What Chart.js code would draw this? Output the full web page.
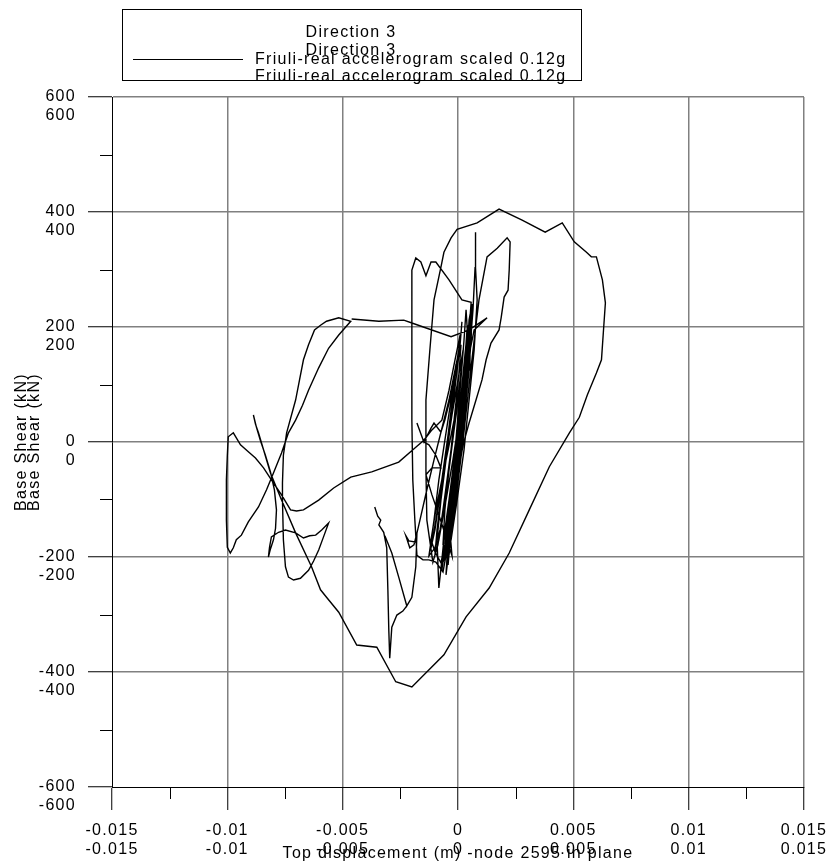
<!DOCTYPE html>
<html>
<head>
<meta charset="utf-8">
<script src="https://cdn.jsdelivr.net/npm/chart.js@4/dist/chart.umd.min.js"></script>
<style>
  html, body { margin: 0; padding: 0; background: #fff; }
  canvas { display: block; }
</style>
</head>
<body>
<canvas id="c" width="830" height="868"></canvas>
<script>
// Text
const chartTitle = 'Direction 3';
const seriesLabel = 'Friuli-real accelerogram scaled 0.12g';
const xAxisTitle = 'Top displacement (m) -node 2595 in plane';
const yAxisTitle = 'Base Shear (kN)';

// Axis ticks
const xMajorTicks = [-0.015, -0.01, -0.005, 0, 0.005, 0.01, 0.015];
const xTickLabels = ['-0.015', '-0.01', '-0.005', '0', '0.005', '0.01', '0.015'];
const xMinorTicks = [-0.0125, -0.0075, -0.0025, 0.0025, 0.0075, 0.0125];
const yMajorTicks = [-600, -400, -200, 0, 200, 400, 600];
const yTickLabels = ['-600', '-400', '-200', '0', '200', '400', '600'];
const yMinorTicks = [-500, -300, -100, 100, 300, 500];

// Hysteresis response: top displacement (m)
const dispX = [
  // opening drift and first small cycles
  -0.00361, -0.00348, -0.00335, -0.00343, -0.00322, -0.00309, -0.00304, -0.00300, -0.00296, -0.00287,
  -0.00265, -0.00239, -0.00222, -0.00257, -0.00287, -0.00317, -0.00287, -0.00257, -0.00222, -0.00200,
  -0.00183, -0.00178, -0.00191, -0.00209, -0.00226, -0.00213, -0.00187, -0.00165, -0.00135, -0.00104,
  -0.00074, -0.00039, -0.00013, 0.00009, 0.00017, 0.00009, -0.00009, -0.00030, -0.00052, -0.00074,
  -0.00091, -0.00083, -0.00070, -0.00057, -0.00039, -0.00017, 0.00004, 0.00022, 0.00035, 0.00039,
  0.00030, 0.00013, -0.00009, -0.00030, -0.00043, -0.00052, -0.00039, -0.00017, 0.00004, 0.00026,
  0.00043, 0.00057, 0.00061, 0.00048, 0.00030, 0.00004, -0.00022, -0.00039, -0.00026,
  -0.00048, -0.00083, -0.00113, -0.00139, -0.00113, -0.00074, -0.00096, -0.00126, -0.00148, -0.00178,
  -0.00148, -0.00117, -0.00104, -0.00074, -0.00057, -0.00030, -0.00004, 0.00013, 0.00004, -0.00017,
  -0.00039, -0.00057, -0.00065,
  // first spike
  -0.00048, -0.00022, 0.00004, 0.00026, 0.00048, 0.00065, 0.00074, 0.00074, 0.00078, 0.00083,
  0.00070, 0.00048, 0.00026, -0.00004, -0.00030, -0.00057,
  -0.00043, -0.00017, 0.00009, 0.00030, 0.00048, 0.00052, 0.00039, 0.00022, 0.00000, -0.00017,
  -0.00035, -0.00043,
  -0.00030, -0.00009, 0.00013, 0.00035, 0.00048, 0.00057, 0.00048, 0.00030, 0.00009, -0.00013,
  -0.00035, -0.00048, -0.00030, -0.00004, 0.00017, 0.00035, 0.00043, 0.00035, 0.00026, 0.00009,
  -0.00009, -0.00026, -0.00043, -0.00057, -0.00039, -0.00017, 0.00004, 0.00026, 0.00039, 0.00052,
  0.00039, 0.00017, -0.00004, -0.00022, -0.00035,
  // positive excursion
  -0.00030, -0.00004, 0.00022, 0.00048, 0.00070, 0.00091, 0.00126, 0.00170, 0.00213, 0.00226,
  0.00222, 0.00217, 0.00200, 0.00187, 0.00178, 0.00143, 0.00122, 0.00104, 0.00078, 0.00048,
  0.00022, -0.00004, -0.00030, -0.00052, -0.00065,
  // cycle with the double peak
  -0.00096, -0.00126, -0.00152, -0.00178, -0.00187, -0.00196, -0.00200, -0.00200, -0.00200, -0.00183,
  -0.00161, -0.00139, -0.00117, -0.00096, -0.00039, 0.00017, 0.00057, 0.00048, 0.00030, 0.00004,
  -0.00022, -0.00043, -0.00057, -0.00074, -0.00100, -0.00117,
  -0.00096, -0.00070, -0.00043, -0.00017, 0.00004, 0.00017, 0.00004, -0.00017, -0.00039, -0.00061,
  -0.00078, -0.00100, -0.00126,
  -0.00104, -0.00083, -0.00057, -0.00030, -0.00009, -0.00022, -0.00043, -0.00070, -0.00096, -0.00117,
  -0.00100, -0.00078, -0.00052, -0.00026, 0.00000, 0.00022, 0.00009, -0.00013, -0.00039, -0.00065,
  -0.00087, -0.00109,
  // large cycle
  -0.00135, -0.00139, -0.00139, -0.00122, -0.00104, -0.00074, -0.00061, -0.00030, -0.00004, 0.00083,
  0.00178, 0.00278, 0.00378, 0.00452, 0.00504, 0.00557, 0.00578, 0.00600, 0.00626, 0.00639,
  0.00630, 0.00622, 0.00600, 0.00561, 0.00526, 0.00483, 0.00396, 0.00309, 0.00222, 0.00135,
  0.00035, -0.00061, -0.00200, -0.00270, -0.00352, -0.00439, -0.00517, -0.00570, -0.00596, -0.00635,
  -0.00704, -0.00765, -0.00813, -0.00865, -0.00878, -0.00887,
  -0.00874, -0.00857, -0.00835, -0.00813, -0.00796, -0.00787, -0.00791, -0.00800, -0.00813, -0.00822,
  -0.00817, -0.00809, -0.00778, -0.00748, -0.00704, -0.00670, -0.00643, -0.00617, -0.00591, -0.00561,
  -0.00583, -0.00604, -0.00626, -0.00648, -0.00683, -0.00713, -0.00735, -0.00748, -0.00757, -0.00761,
  -0.00761, -0.00757, -0.00743, -0.00704, -0.00687, -0.00670, -0.00648, -0.00622, -0.00596, -0.00570,
  -0.00517, -0.00465,
  // negative excursion
  -0.00517, -0.00561, -0.00604, -0.00648, -0.00674, -0.00704, -0.00735, -0.00765, -0.00800, -0.00830,
  -0.00865, -0.00909, -0.00939, -0.00961, -0.00974, -0.00987, -0.01000, -0.01004, -0.01004, -0.01000,
  -0.00996, -0.00974, -0.00943, -0.00909, -0.00878, -0.00843, -0.00809, -0.00765, -0.00726, -0.00700,
  -0.00670, -0.00604, -0.00539, -0.00465, -0.00374, -0.00257, -0.00183, -0.00148, -0.00113, -0.00070,
  // closing small cycles
  -0.00039, -0.00013, 0.00009, -0.00004, -0.00026, -0.00048, -0.00070, -0.00091, -0.00100, -0.00083,
  -0.00052, -0.00022, 0.00004, 0.00026, 0.00039, 0.00026, 0.00004, -0.00017, -0.00039, -0.00057,
  -0.00043, -0.00022, -0.00004, 0.00013, 0.00030, 0.00048, 0.00030, 0.00009, -0.00009, -0.00022,
  -0.00039, -0.00052, -0.00035, -0.00013, 0.00009, 0.00026, 0.00039, 0.00048, 0.00061, 0.00052,
  0.00035, 0.00013, -0.00009, -0.00030, -0.00039, -0.00026,
  -0.00004, 0.00017, 0.00035, 0.00043, 0.00030, 0.00009, -0.00013, -0.00035, -0.00057, -0.00070,
  -0.00052, -0.00030, -0.00009, 0.00013, 0.00030, 0.00017, 0.00000, -0.00017, -0.00030, -0.00039,
  -0.00022, -0.00004, 0.00017,
  -0.00004, 0.00017, 0.00030, 0.00048, 0.00070, 0.00126, 0.00048, -0.00030, -0.00200, -0.00235,
  -0.00343, -0.00461
];

// Hysteresis response: base shear (kN)
const shearKN = [
  // opening drift and first small cycles
  -113, -129, -136, -144, -157, -184, -257, -327, -376, -322,
  -301, -294, -285, -235, -193, -163, -193, -235, -285, -270,
  -217, -158, -179, -184, -163, -172, -174, -136, -83, -31,
  17, 73, 125, 169, 209, 169, 108, 38, -31, -101,
  -170, -254, -205, -153, -101, -31, 38, 108, 160, 195,
  143, 73, -14, -101, -170, -231, -188, -118, -49, 38,
  108, 177, 238, 195, 125, 21, -66, -136, -198,
  -170, -127, -92, -57, -45, -45, -23, -5, 0, 33,
  0, 24, 33, 17, 38, 82, 134, 169, 117, 38,
  -49, -118, -179,
  // first spike
  -136, -66, 3, 73, 143, 230, 303, 365, 303, 247,
  160, 73, -14, -101, -170, -200,
  -153, -83, -14, 56, 125, 177, 143, 73, -14, -83,
  -153, -214,
  -153, -83, -14, 73, 143, 212, 169, 90, 3, -83,
  -162, -205, -144, -49, 38, 117, 177, 230, 177, 90,
  3, -83, -162, -209, -153, -92, -23, 56, 125, 186,
  125, 38, -49, -127, -179,
  // positive excursion
  -170, -83, 3, 99, 177, 247, 322, 337, 355, 348,
  299, 264, 252, 216, 195, 172, 143, 108, 73, 33,
  -5, -66, -136, -197, -226,
  // cycle with the double peak
  -209, -205, -205, -197, -136, -66, 38, 177, 299, 320,
  313, 289, 313, 313, 282, 247, 243, 195, 125, 38,
  -49, -127, -179, -210, -191, -170,
  -118, -66, -14, 38, 90, 134, 82, 21, -49, -110,
  -153, -184, -198,
  -136, -66, 3, 73, 134, 82, 12, -66, -136, -184,
  -153, -92, -23, 47, 108, 160, 108, 38, -40, -118,
  -179, -209,
  // large cycle
  -136, -49, 73, 160, 247, 304, 330, 355, 370, 381,
  405, 386, 365, 381, 348, 330, 322, 322, 282, 242,
  190, 143, 120, 82, 43, 16, -43, -118, -193, -254,
  -304, -370, -426, -417, -357, -353, -296, -270, -257, -217,
  -158, -101, -54, 16, 31, 47,
  26, 3, -23, -52, -83, -118, -150, -170, -186, -200,
  -183, -165, -157, -153, -158, -167, -163, -162, -153, -141,
  -165, -188, -207, -223, -237, -240, -235, -217, -170, -101,
  -71, -23, 16, 73, 108, 143, 169, 195, 203, 210,
  216, 210,
  // negative excursion
  186, 163, 129, 90, 64, 38, 16, -19, -54, -83,
  -113, -139, -162, -170, -184, -193, -183, -136, -66, -23,
  9, 16, -5, -17, -28, -45, -66, -92, -118, -120,
  -118, -101, -80, -61, -52, -35, -9, 3, 21, 38,
  // closing small cycles
  90, 143, 186, 125, 56, -14, -83, -153, -197, -170,
  -101, -31, 38, 108, 169, 117, 38, -49, -118, -170,
  -136, -66, -14, 38, 90, 160, 108, 38, -23, -66,
  -127, -179, -118, -49, 21, 90, 151, 212, 240, 195,
  117, 30, -49, -122, -162, -101,
  -23, 64, 143, 203, 151, 64, -23, -101, -179, -223,
  -170, -101, -31, 38, 99, 47, -23, -92, -153, -197,
  -136, -66, 21,
  -14, 56, 108, 151, 195, 216, 195, 183, 207, 212,
  210, 214
];

const FONT = '"Liberation Sans", Arial, Helvetica, sans-serif';
const LETTER_SPACING = '1.3px';
Chart.defaults.font.family = FONT;
Chart.defaults.font.size = 16;
Chart.defaults.color = '#000';

const near = (a, b) => Math.abs(a - b) < 1e-9;
const labelFor = (vals, labels) => (value) => {
  const i = vals.findIndex(v => near(v, value));
  if (i < 0) return '';
  return [labels[i], labels[i]];
};

// Spacing on all canvas text, re-applied because resizing resets the context
const spacingPlugin = {
  id: 'spacing',
  beforeLayout(chart) { chart.ctx.letterSpacing = LETTER_SPACING; },
  beforeDraw(chart) { chart.ctx.letterSpacing = LETTER_SPACING; }
};

// Short minor tick marks outside the plot frame
const minorTickPlugin = {
  id: 'minorTicks',
  afterDraw(chart) {
    const { ctx, chartArea, scales } = chart;
    ctx.save();
    ctx.strokeStyle = '#000';
    ctx.lineWidth = 1;
    ctx.beginPath();
    xMinorTicks.forEach(v => {
      const px = Math.round(scales.x.getPixelForValue(v)) + 0.5;
      ctx.moveTo(px, chartArea.bottom);
      ctx.lineTo(px, chartArea.bottom + 12);
    });
    yMinorTicks.forEach(v => {
      const py = Math.round(scales.y.getPixelForValue(v)) + 0.5;
      ctx.moveTo(chartArea.left - 12, py);
      ctx.lineTo(chartArea.left, py);
    });
    ctx.stroke();
    ctx.restore();
  }
};

// Boxed legend with heading and series sample
const legendBoxPlugin = {
  id: 'legendBox',
  afterDraw(chart) {
    const { ctx } = chart;
    const ds = chart.data.datasets[0];
    ctx.save();
    ctx.letterSpacing = LETTER_SPACING;
    ctx.strokeStyle = '#000';
    ctx.lineWidth = 1;
    ctx.strokeRect(122.5, 9.5, 459, 71);
    ctx.fillStyle = '#000';
    ctx.font = '16px ' + FONT;
    ctx.textBaseline = 'middle';
    ctx.textAlign = 'center';
    ctx.fillText(chartTitle, 351, 33);
    ctx.fillText(chartTitle, 351, 51);
    ctx.strokeStyle = ds.borderColor;
    ctx.lineWidth = 1;
    ctx.beginPath();
    ctx.moveTo(133, 59.5);
    ctx.lineTo(243, 59.5);
    ctx.stroke();
    ctx.textAlign = 'left';
    ctx.fillText(ds.label, 255, 60);
    ctx.fillText(ds.label, 255, 77);
    ctx.restore();
  }
};

const gridGray = '#808080';

new Chart(document.getElementById('c'), {
  type: 'scatter',
  data: {
    datasets: [{
      label: seriesLabel,
      data: dispX.map((x, i) => ({ x, y: shearKN[i] })),
      showLine: true,
      borderColor: '#000',
      borderWidth: 1.4,
      pointRadius: 0,
      pointHoverRadius: 0,
      tension: 0,
      fill: false
    }]
  },
  options: {
    responsive: false,
    animation: false,
    events: [],
    layout: { padding: { top: 97, right: 26, left: 0, bottom: 0 } },
    plugins: { legend: { display: false }, tooltip: { enabled: false }, title: { display: false } },
    scales: {
      x: {
        type: 'linear',
        position: 'bottom',
        min: xMajorTicks[0],
        max: xMajorTicks[xMajorTicks.length - 1],
        afterBuildTicks: (s) => { s.ticks = xMajorTicks.map(v => ({ value: v })); },
        afterFit: (s) => { s.height = 81; s.paddingLeft = 0; s.paddingRight = 0; },
        grid: {
          color: (c) => (c.tick && near(c.tick.value, xMajorTicks[0])) ? 'rgba(0,0,0,0)' : gridGray,
          lineWidth: 1.5,
          tickColor: '#000',
          tickLength: 23,
          tickWidth: 1
        },
        border: { display: true, color: '#000', width: 1 },
        ticks: {
          autoSkip: false,
          maxRotation: 0,
          minRotation: 0,
          padding: 11,
          font: { size: 16, lineHeight: 1.19 },
          callback: labelFor(xMajorTicks, xTickLabels)
        },
        title: {
          display: true,
          text: xAxisTitle,
          font: { size: 16, lineHeight: 1.2 },
          padding: { top: 0, bottom: 5 }
        }
      },
      y: {
        type: 'linear',
        position: 'left',
        min: yMajorTicks[0],
        max: yMajorTicks[yMajorTicks.length - 1],
        afterBuildTicks: (s) => { s.ticks = yMajorTicks.map(v => ({ value: v })); },
        afterFit: (s) => { s.width = 112; s.paddingTop = 0; s.paddingBottom = 0; },
        grid: {
          color: (c) => (c.tick && near(c.tick.value, yMajorTicks[0])) ? 'rgba(0,0,0,0)' : gridGray,
          lineWidth: 1.5,
          tickColor: '#000',
          tickLength: 24,
          tickWidth: 1
        },
        border: { display: true, color: '#000', width: 1 },
        ticks: {
          autoSkip: false,
          padding: 12,
          labelOffset: 9.5,
          font: { size: 16, lineHeight: 1.19 },
          callback: labelFor(yMajorTicks, yTickLabels)
        },
        title: {
          display: true,
          text: [yAxisTitle, yAxisTitle],
          font: { size: 16, lineHeight: 0.8125 },
          padding: { top: 15, bottom: 0 }
        }
      }
    }
  },
  plugins: [spacingPlugin, minorTickPlugin, legendBoxPlugin]
});
</script>
</body>
</html>
